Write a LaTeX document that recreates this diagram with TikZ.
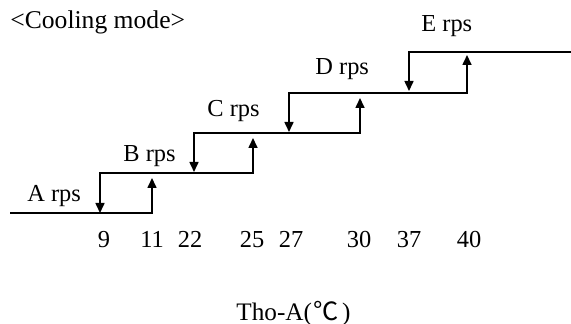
\documentclass[tikz,border=0pt]{standalone}
\usepackage{fontspec}
\setmainfont{Liberation Serif}
\newfontfamily\cjk{Noto Sans CJK SC}
\usetikzlibrary{arrows.meta}
\begin{document}
\begin{tikzpicture}[x=0.5pt,y=-0.5pt,
  lvl/.style={line width=0.8pt},
  tipend/.style={-{Triangle[length=5pt,width=4.5pt]}},
  tipboth/.style={{Triangle[length=5pt,width=4.5pt]}-{Triangle[length=5pt,width=4.5pt]}},
  tipstart/.style={{Triangle[length=5pt,width=4.5pt]}-},
  lbl/.style={inner sep=0pt,anchor=base west,font=\fontsize{12.2}{14}\selectfont},
  num/.style={inner sep=0pt,anchor=base,font=\fontsize{12.2}{14}\selectfont}]
\useasboundingbox (0,0) rectangle (571,324);
% corners
\coordinate (a0) at (10,213);
\coordinate (a1) at (152,213);
\coordinate (a2) at (152,178);
\coordinate (b0) at (100,213);
\coordinate (b1) at (100,173);
\coordinate (b2) at (253,173);
\coordinate (b3) at (253,138);
\coordinate (c0) at (194,172);
\coordinate (c1) at (194,133);
\coordinate (c2) at (360,133);
\coordinate (c3) at (360,98);
\coordinate (d0) at (289,132);
\coordinate (d1) at (289,93);
\coordinate (d2) at (467,93);
\coordinate (d3) at (467,55);
\coordinate (e0) at (409,91);
\coordinate (e1) at (409,52);
\coordinate (e2) at (571,52);
% steps
\draw[lvl,tipend] (a0) -- (a1) -- (a2);
\draw[lvl,tipboth] (b0) -- (b1) -- (b2) -- (b3);
\draw[lvl,tipboth] (c0) -- (c1) -- (c2) -- (c3);
\draw[lvl,tipboth] (d0) -- (d1) -- (d2) -- (d3);
\draw[lvl,tipstart] (e0) -- (e1) -- (e2);
% labels
\node[lbl,font=\fontsize{12.8}{15}\selectfont] (title) at (10,28.3) {<Cooling mode>};
\node[lbl] (la) at (27,202) {A rps};
\node[lbl] (lb) at (123,162) {B rps};
\node[lbl] (lc) at (207,117) {C rps};
\node[lbl] (ld) at (315,75) {D rps};
\node[lbl] (le) at (421,32) {E rps};
\node[num] (n9) at (104,248) {9};
\node[num] (n11) at (152,248) {11};
\node[num] (n22) at (190,248) {22};
\node[num] (n25) at (252,248) {25};
\node[num] (n27) at (291,248) {27};
\node[num] (n30) at (359,248) {30};
\node[num] (n37) at (409,248) {37};
\node[num] (n40) at (469,248) {40};
\node[lbl,font=\fontsize{12.6}{15}\selectfont] (axis) at (236,321) {Tho-A(\kern1pt{\cjk ℃}\kern1.5pt)};
\end{tikzpicture}
\end{document}
